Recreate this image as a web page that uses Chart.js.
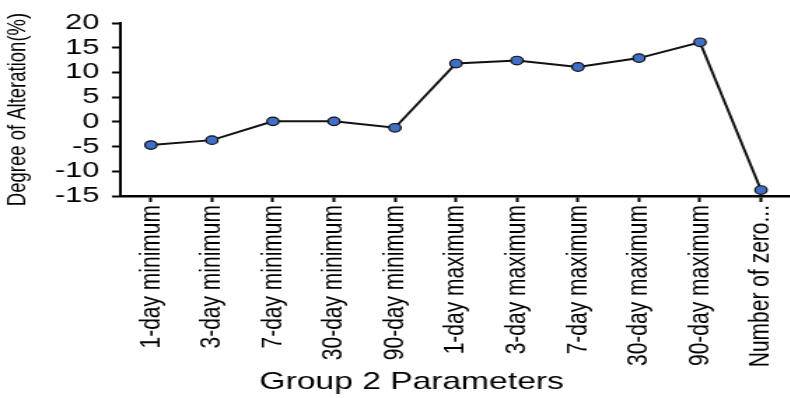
<!DOCTYPE html>
<html>
<head>
<meta charset="utf-8">
<script src="https://cdn.jsdelivr.net/npm/chart.js@4/dist/chart.umd.min.js"></script>
<style>
  html, body { margin: 0; padding: 0; background: #fff; overflow: hidden; }
  #frame { width: 790px; height: 398px; overflow: hidden; position: relative; }
  #wrap { position: absolute; left: 0; top: 0; width: 572px; height: 398px;
          transform: scaleX(1.4); transform-origin: 0 0; }
</style>
</head>
<body>
<div id="frame"><div id="wrap"><canvas id="c" width="572" height="398"></canvas></div></div>
<script>
// Group 2 hydrologic parameters and their degree of alteration (%)
const categories = [
  '1-day minimum', '3-day minimum', '7-day minimum', '30-day minimum', '90-day minimum',
  '1-day maximum', '3-day maximum', '7-day maximum', '30-day maximum', '90-day maximum',
  'Number of zero...'
];
const alteration = [-4.7, -3.7, 0.1, 0.1, -1.2, 11.8, 12.4, 11.1, 12.9, 16.1, -13.8];
const yTicks = [-15, -10, -5, 0, 5, 10, 15, 20];

const FONT = '"Liberation Sans", Arial, sans-serif';

// bottom axis title, drawn centred under the labels
const xTitlePlugin = {
  id: 'xTitle',
  afterDraw(chart) {
    const ctx = chart.ctx;
    ctx.save();
    ctx.font = '24px ' + FONT;
    ctx.fillStyle = '#000';
    ctx.textAlign = 'center';
    ctx.textBaseline = 'middle';
    ctx.fillText('Group 2 Parameters', 294, 382);
    ctx.restore();
  }
};

const axisTicks = {
  display: true, drawOnChartArea: false, drawTicks: true,
  tickLength: 6, tickWidth: 2, tickColor: '#000'
};

new Chart(document.getElementById('c'), {
  type: 'line',
  data: {
    labels: categories,
    datasets: [{
      data: alteration,
      borderColor: '#111',
      borderWidth: 2,
      pointRadius: 4.3,
      pointBackgroundColor: '#3f6fc6',
      pointBorderColor: '#111',
      pointBorderWidth: 1.2,
      tension: 0
    }]
  },
  options: {
    responsive: false,
    animation: false,
    devicePixelRatio: 1,
    layout: { padding: { top: 23, left: 0, right: 4, bottom: 0 } },
    plugins: { legend: { display: false }, tooltip: { enabled: false } },
    scales: {
      x: {
        offset: true,
        grid: axisTicks,
        border: { display: true, color: '#000', width: 2.5 },
        ticks: {
          color: '#000', minRotation: 90, maxRotation: 90, autoSkip: false, padding: 3,
          font: { family: FONT, size: 21 }
        },
        afterFit(scale) { scale.height = 202; }
      },
      y: {
        min: -15, max: 20,
        afterBuildTicks(scale) { scale.ticks = yTicks.map(v => ({ value: v })); },
        grid: axisTicks,
        border: { display: true, color: '#000', width: 2 },
        ticks: { color: '#000', padding: 9, autoSkip: false, font: { family: FONT, size: 22 } },
        title: {
          display: true, text: 'Degree of Alteration(%)', color: '#000',
          font: { family: FONT, size: 18.5 }, padding: { top: 2, bottom: 0 }
        },
        afterFit(scale) { scale.width = 86; }
      }
    }
  },
  plugins: [xTitlePlugin]
});
</script>
</body>
</html>
